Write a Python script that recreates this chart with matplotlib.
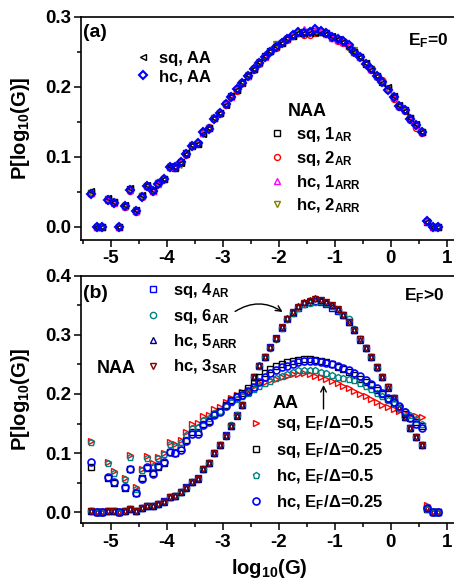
import matplotlib
matplotlib.use("Agg")
import matplotlib.pyplot as plt
from matplotlib.ticker import MultipleLocator

plt.rcParams["font.family"] = "Liberation Sans"
plt.rcParams["font.weight"] = "bold"
plt.rcParams["axes.labelweight"] = "bold"
plt.rcParams["mathtext.fontset"] = "custom"
plt.rcParams["mathtext.rm"] = "Liberation Sans:bold"
plt.rcParams["mathtext.it"] = "Liberation Sans:bold"
plt.rcParams["mathtext.bf"] = "Liberation Sans:bold"
plt.rcParams["axes.unicode_minus"] = False

# ── data: bin centres of log10(G) ─────────────────────────────────
logG = [-5.35, -5.25, -5.15, -5.05, -4.95, -4.85, -4.75, -4.65, -4.55, -4.45,
        -4.35, -4.25, -4.15, -4.05, -3.95, -3.85, -3.75, -3.65, -3.55, -3.45,
        -3.35, -3.25, -3.15, -3.05, -2.95, -2.85, -2.75, -2.65, -2.55, -2.45,
        -2.35, -2.25, -2.15, -2.05, -1.95, -1.85, -1.75, -1.65, -1.55, -1.45,
        -1.35, -1.25, -1.15, -1.05, -0.95, -0.85, -0.75, -0.65, -0.55, -0.45,
        -0.35, -0.25, -0.15, -0.05, 0.05, 0.15, 0.25, 0.35, 0.45, 0.55,
        0.65, 0.75, 0.85]

# (a) E_F = 0
a_sq_AA = [0.051, 0.0, 0.0, 0.041, 0.036, 0.0, 0.031, 0.055, 0.024, 0.046,
           0.060, 0.053, 0.064, 0.069, 0.087, 0.085, 0.091, 0.104, 0.117, 0.118,
           0.133, 0.141, 0.155, 0.163, 0.174, 0.187, 0.196, 0.207, 0.217, 0.225,
           0.235, 0.244, 0.251, 0.258, 0.262, 0.269, 0.273, 0.277, 0.276, 0.277,
           0.276, 0.277, 0.275, 0.272, 0.268, 0.264, 0.256, 0.250, 0.243, 0.234,
           0.224, 0.215, 0.206, 0.199, 0.187, 0.174, 0.166, 0.156, 0.147, 0.136,
           0.007, 0.0, 0.0]
a_hc_AA = [0.047, 0.0, 0.0, 0.039, 0.034, 0.0, 0.030, 0.053, 0.023, 0.043,
           0.059, 0.052, 0.062, 0.068, 0.085, 0.085, 0.092, 0.104, 0.116, 0.120,
           0.135, 0.140, 0.154, 0.162, 0.175, 0.186, 0.197, 0.206, 0.215, 0.226,
           0.234, 0.243, 0.250, 0.257, 0.262, 0.268, 0.274, 0.278, 0.277, 0.278,
           0.282, 0.280, 0.276, 0.271, 0.268, 0.265, 0.259, 0.249, 0.242, 0.233,
           0.226, 0.216, 0.207, 0.196, 0.186, 0.172, 0.167, 0.154, 0.145, 0.135,
           0.008, 0.0, 0.0]
a_sq_1AR = [0.049, 0.0, 0.0, 0.040, 0.035, 0.0, 0.030, 0.054, 0.023, 0.044,
            0.058, 0.052, 0.063, 0.068, 0.086, 0.084, 0.092, 0.105, 0.116, 0.119,
            0.134, 0.141, 0.155, 0.162, 0.175, 0.187, 0.196, 0.206, 0.216, 0.226,
            0.234, 0.244, 0.251, 0.257, 0.263, 0.268, 0.273, 0.277, 0.278, 0.278,
            0.279, 0.278, 0.276, 0.271, 0.267, 0.264, 0.258, 0.250, 0.242, 0.233,
            0.225, 0.215, 0.207, 0.197, 0.186, 0.173, 0.167, 0.155, 0.146, 0.135,
            0.007, 0.0, 0.0]
a_sq_2AR = [0.048, 0.0, 0.0, 0.038, 0.034, 0.0, 0.029, 0.052, 0.022, 0.043,
            0.058, 0.051, 0.063, 0.068, 0.085, 0.085, 0.091, 0.103, 0.116, 0.120,
            0.135, 0.142, 0.155, 0.161, 0.174, 0.185, 0.194, 0.205, 0.216, 0.224,
            0.233, 0.242, 0.250, 0.256, 0.262, 0.267, 0.273, 0.276, 0.274, 0.274,
            0.276, 0.278, 0.275, 0.270, 0.266, 0.262, 0.257, 0.249, 0.242, 0.232,
            0.224, 0.214, 0.210, 0.197, 0.182, 0.171, 0.166, 0.153, 0.141, 0.134,
            0.008, 0.0, 0.0]
a_hc_1ARR = [0.048, 0.0, 0.0, 0.039, 0.034, 0.0, 0.030, 0.053, 0.023, 0.044,
             0.059, 0.052, 0.062, 0.069, 0.086, 0.085, 0.092, 0.105, 0.117, 0.120,
             0.134, 0.141, 0.156, 0.162, 0.175, 0.186, 0.198, 0.207, 0.216, 0.226,
             0.235, 0.243, 0.251, 0.258, 0.262, 0.269, 0.274, 0.279, 0.283, 0.279,
             0.281, 0.279, 0.275, 0.270, 0.267, 0.264, 0.258, 0.249, 0.242, 0.234,
             0.226, 0.216, 0.208, 0.197, 0.186, 0.173, 0.167, 0.154, 0.145, 0.135,
             0.008, 0.0, 0.0]
a_hc_2ARR = [0.049, 0.0, 0.0, 0.040, 0.035, 0.0, 0.030, 0.053, 0.024, 0.044,
             0.059, 0.052, 0.063, 0.068, 0.085, 0.085, 0.089, 0.104, 0.117, 0.119,
             0.133, 0.141, 0.155, 0.162, 0.175, 0.186, 0.196, 0.206, 0.217, 0.225,
             0.235, 0.243, 0.250, 0.261, 0.262, 0.268, 0.272, 0.277, 0.277, 0.278,
             0.278, 0.278, 0.275, 0.271, 0.267, 0.264, 0.254, 0.252, 0.242, 0.234,
             0.225, 0.216, 0.207, 0.197, 0.187, 0.173, 0.166, 0.155, 0.145, 0.135,
             0.007, 0.0, 0.0]

# (b) E_F > 0, NAA
b_sq_4AR = [0.002, 0.0, 0.0, 0.003, 0.003, 0.0, 0.003, 0.006, 0.003, 0.007,
            0.010, 0.011, 0.014, 0.019, 0.025, 0.028, 0.034, 0.042, 0.052, 0.058,
            0.073, 0.084, 0.100, 0.113, 0.130, 0.146, 0.164, 0.182, 0.204, 0.229,
            0.248, 0.263, 0.279, 0.294, 0.312, 0.326, 0.337, 0.346, 0.352, 0.356,
            0.358, 0.355, 0.352, 0.346, 0.341, 0.333, 0.322, 0.309, 0.293, 0.278,
            0.262, 0.245, 0.228, 0.211, 0.194, 0.177, 0.161, 0.143, 0.128, 0.114,
            0.008, 0.001, 0.0]
b_sq_6AR = [0.002, 0.0, 0.0, 0.003, 0.003, 0.0, 0.003, 0.006, 0.003, 0.007,
            0.010, 0.010, 0.014, 0.018, 0.025, 0.028, 0.034, 0.041, 0.052, 0.057,
            0.073, 0.083, 0.100, 0.113, 0.129, 0.147, 0.164, 0.182, 0.203, 0.228,
            0.247, 0.262, 0.278, 0.293, 0.312, 0.326, 0.337, 0.346, 0.353, 0.354,
            0.356, 0.357, 0.354, 0.348, 0.342, 0.334, 0.327, 0.310, 0.293, 0.278,
            0.262, 0.244, 0.228, 0.211, 0.193, 0.177, 0.161, 0.143, 0.127, 0.113,
            0.008, 0.001, 0.0]
b_hc_5ARR = [0.002, 0.0, 0.0, 0.003, 0.003, 0.0, 0.003, 0.006, 0.003, 0.007,
             0.010, 0.010, 0.014, 0.018, 0.025, 0.028, 0.034, 0.041, 0.052, 0.057,
             0.073, 0.083, 0.100, 0.113, 0.129, 0.146, 0.163, 0.182, 0.203, 0.228,
             0.249, 0.263, 0.279, 0.294, 0.314, 0.328, 0.339, 0.348, 0.355, 0.359,
             0.362, 0.359, 0.355, 0.350, 0.343, 0.334, 0.322, 0.309, 0.292, 0.278,
             0.262, 0.245, 0.228, 0.210, 0.194, 0.177, 0.161, 0.143, 0.127, 0.113,
             0.008, 0.001, 0.0]
b_hc_3SAR = [0.002, 0.0, 0.0, 0.003, 0.003, 0.0, 0.003, 0.006, 0.003, 0.007,
             0.010, 0.010, 0.014, 0.018, 0.025, 0.028, 0.034, 0.041, 0.052, 0.057,
             0.073, 0.083, 0.100, 0.113, 0.129, 0.146, 0.163, 0.182, 0.203, 0.228,
             0.247, 0.262, 0.278, 0.293, 0.313, 0.327, 0.338, 0.347, 0.354, 0.358,
             0.360, 0.359, 0.355, 0.350, 0.343, 0.334, 0.322, 0.309, 0.293, 0.278,
             0.262, 0.245, 0.228, 0.211, 0.194, 0.177, 0.161, 0.143, 0.127, 0.113,
             0.008, 0.001, 0.0]

# (b) E_F > 0, AA
b_sq_05 = [0.120, 0.0, 0.0, 0.085, 0.069, 0.0, 0.058, 0.097, 0.043, 0.073,
           0.095, 0.083, 0.093, 0.100, 0.118, 0.116, 0.123, 0.136, 0.149, 0.151,
           0.162, 0.165, 0.174, 0.178, 0.187, 0.193, 0.199, 0.203, 0.207, 0.214,
           0.218, 0.221, 0.223, 0.226, 0.229, 0.231, 0.233, 0.234, 0.235, 0.233,
           0.230, 0.228, 0.225, 0.222, 0.218, 0.214, 0.210, 0.205, 0.200, 0.196,
           0.192, 0.187, 0.182, 0.178, 0.175, 0.171, 0.168, 0.165, 0.162, 0.161,
           0.012, 0.0, 0.0]
b_sq_025 = [0.076, 0.0, 0.0, 0.058, 0.050, 0.0, 0.041, 0.073, 0.033, 0.058,
            0.075, 0.066, 0.076, 0.083, 0.102, 0.100, 0.108, 0.122, 0.135, 0.136,
            0.150, 0.155, 0.167, 0.172, 0.182, 0.190, 0.197, 0.202, 0.210, 0.218,
            0.229, 0.236, 0.242, 0.247, 0.251, 0.254, 0.256, 0.258, 0.260, 0.259,
            0.257, 0.255, 0.254, 0.250, 0.246, 0.242, 0.237, 0.232, 0.226, 0.220,
            0.215, 0.207, 0.200, 0.192, 0.184, 0.176, 0.167, 0.160, 0.152, 0.146,
            0.006, 0.0, 0.0]
b_hc_05 = [0.119, 0.0, 0.0, 0.083, 0.066, 0.0, 0.056, 0.094, 0.040, 0.071,
           0.091, 0.078, 0.091, 0.098, 0.115, 0.112, 0.119, 0.131, 0.142, 0.145,
           0.156, 0.160, 0.168, 0.172, 0.180, 0.186, 0.192, 0.197, 0.202, 0.208,
           0.213, 0.218, 0.222, 0.227, 0.231, 0.234, 0.237, 0.240, 0.241, 0.241,
           0.240, 0.238, 0.235, 0.232, 0.229, 0.227, 0.226, 0.223, 0.219, 0.214,
           0.208, 0.202, 0.196, 0.190, 0.184, 0.177, 0.171, 0.165, 0.157, 0.149,
           0.006, 0.0, 0.0]
b_hc_025 = [0.085, 0.0, 0.0, 0.060, 0.051, 0.0, 0.043, 0.074, 0.032, 0.057,
            0.076, 0.065, 0.078, 0.085, 0.102, 0.100, 0.106, 0.121, 0.133, 0.133,
            0.148, 0.152, 0.165, 0.169, 0.180, 0.188, 0.195, 0.199, 0.205, 0.212,
            0.220, 0.228, 0.235, 0.240, 0.245, 0.248, 0.251, 0.254, 0.256, 0.256,
            0.255, 0.254, 0.252, 0.250, 0.247, 0.244, 0.240, 0.236, 0.231, 0.224,
            0.217, 0.210, 0.201, 0.194, 0.187, 0.179, 0.170, 0.160, 0.150, 0.142,
            0.008, 0.0, 0.0]

# ── figure ────────────────────────────────────────────────────────
fig = plt.figure(figsize=(4.54, 5.85), dpi=100)
ax1 = fig.add_axes([0.1778, 0.5897, 0.8308, 0.3818])
ax2 = fig.add_axes([0.1778, 0.1055, 0.8308, 0.4232])

LBL = 12


def style(ax, ymax):
    ax.set_xlim(-5.536, 1.2)
    ax.set_ylim(-0.0186, ymax)
    ax.xaxis.set_major_locator(MultipleLocator(1))
    ax.xaxis.set_minor_locator(MultipleLocator(0.5))
    ax.yaxis.set_major_locator(MultipleLocator(0.1))
    ax.yaxis.set_minor_locator(MultipleLocator(0.05))
    ax.tick_params(which="both", direction="out", top=False, right=False,
                   labelsize=13.5, width=1.1)
    ax.tick_params(which="major", length=5)
    ax.tick_params(which="minor", length=3)
    ax.tick_params(axis="x", pad=2.5)
    ax.tick_params(axis="y", pad=1.5)
    for s in ax.spines.values():
        s.set_linewidth(1.2)
    ax.set_ylabel(r"P[log$_{10}$(G)]", fontsize=14.5)
    ax.yaxis.set_label_coords(-0.13, 0.5)


def mk(ax, y, m, c, ms=4.5, mew=1.0, lbl=None, z=3):
    return ax.plot(logG, y, ls="none", marker=m, ms=ms, mfc="none", mec=c,
                   mew=mew, label=lbl, zorder=z)[0]


# ── panel (a) ─────────────────────────────────────────────────────
style(ax1, 0.3)
h1 = mk(ax1, a_sq_1AR, "s", "black", ms=3.8, lbl=r"sq, 1$_{AR}$")
h2 = mk(ax1, a_sq_2AR, "o", "#ff0000", ms=4.3, lbl=r"sq, 2$_{AR}$")
h3 = mk(ax1, a_hc_1ARR, "^", "#ff00ff", ms=4.5, lbl=r"hc, 1$_{ARR}$")
h4 = mk(ax1, a_hc_2ARR, "v", "#808000", ms=4.5, lbl=r"hc, 2$_{ARR}$")
g1 = mk(ax1, a_sq_AA, "<", "black", ms=4.5, lbl="sq, AA")
g2 = mk(ax1, a_hc_AA, "D", "#0000ff", ms=4.2, mew=1.5, lbl="hc, AA", z=4)

leg = ax1.legend(handles=[g1, g2], loc="center left",
                 bbox_to_anchor=(0.151, 0.7725), frameon=False,
                 fontsize=LBL, numpoints=1, handlelength=0.6,
                 handletextpad=0.68, labelspacing=0.2, borderpad=0,
                 borderaxespad=0)
ax1.add_artist(leg)
ax1.legend(handles=[h1, h2, h3, h4], loc="center left",
           bbox_to_anchor=(0.508, 0.3135), frameon=False,
           fontsize=LBL, numpoints=1, handlelength=0.6,
           handletextpad=0.8, labelspacing=0.3, borderpad=0,
           borderaxespad=0)
ax1.text(0.55, 0.555, "NAA", transform=ax1.transAxes, fontsize=LBL + 1)
ax1.text(0.006, 0.908, "(a)", transform=ax1.transAxes, fontsize=14)
ax1.text(0.868, 0.873, r"E$_F$=0", transform=ax1.transAxes, fontsize=12.5)

# ── panel (b) ─────────────────────────────────────────────────────
style(ax2, 0.4)
k1 = mk(ax2, b_sq_4AR, "s", "#0000ff", ms=4.3, lbl=r"sq, 4$_{AR}$")
k2 = mk(ax2, b_sq_6AR, "o", "#008080", ms=4.5, lbl=r"sq, 6$_{AR}$")
k3 = mk(ax2, b_hc_5ARR, "^", "#000080", ms=4.6, lbl=r"hc, 5$_{ARR}$")
k4 = mk(ax2, b_hc_3SAR, "v", "#800000", ms=4.6, lbl=r"hc, 3$_{SAR}$")
j1 = mk(ax2, b_sq_05, ">", "#ff0000", ms=4.6, lbl=r"sq, E$_F$/Δ=0.5")
j2 = mk(ax2, b_sq_025, "s", "black", ms=4.3, lbl=r"sq, E$_F$/Δ=0.25")
j3 = mk(ax2, b_hc_05, "p", "#008080", ms=5.0, lbl=r"hc, E$_F$/Δ=0.5")
j4 = mk(ax2, b_hc_025, "o", "#0000ff", ms=5.0, mew=1.2,
        lbl=r"hc, E$_F$/Δ=0.25", z=4)

leg = ax2.legend(handles=[k1, k2, k3, k4], loc="center left",
                 bbox_to_anchor=(0.178, 0.787), frameon=False,
                 fontsize=LBL, numpoints=1, handlelength=0.6,
                 handletextpad=0.9, labelspacing=0.42, borderpad=0,
                 borderaxespad=0)
ax2.add_artist(leg)
ax2.legend(handles=[j1, j2, j3, j4], loc="center left",
           bbox_to_anchor=(0.451, 0.243), frameon=False,
           fontsize=LBL, numpoints=1, handlelength=0.6,
           handletextpad=0.9, labelspacing=0.45, borderpad=0,
           borderaxespad=0)
ax2.text(0.0954, 0.606, "NAA", transform=ax2.transAxes, fontsize=LBL + 1,
         ha="center")
ax2.text(0.508, 0.467, "AA", transform=ax2.transAxes, fontsize=LBL + 1)
ax2.text(0.006, 0.909, "(b)", transform=ax2.transAxes, fontsize=14)
ax2.text(0.858, 0.899, r"E$_F$>0", transform=ax2.transAxes, fontsize=12.5)

ax2.annotate("", xy=(-1.89, 0.336), xytext=(-2.82, 0.337),
             arrowprops=dict(arrowstyle="->", color="black", lw=1.0,
                             connectionstyle="arc3,rad=-0.35"))
ax2.annotate("", xy=(-1.20, 0.220), xytext=(-1.20, 0.170),
             arrowprops=dict(arrowstyle="->", color="black", lw=1.0))

ax2.set_xlabel(r"log$_{10}$(G)", fontsize=14.5)
ax2.xaxis.set_label_coords(0.5, -0.135)

fig.savefig("out.png", dpi=100, facecolor="white")
